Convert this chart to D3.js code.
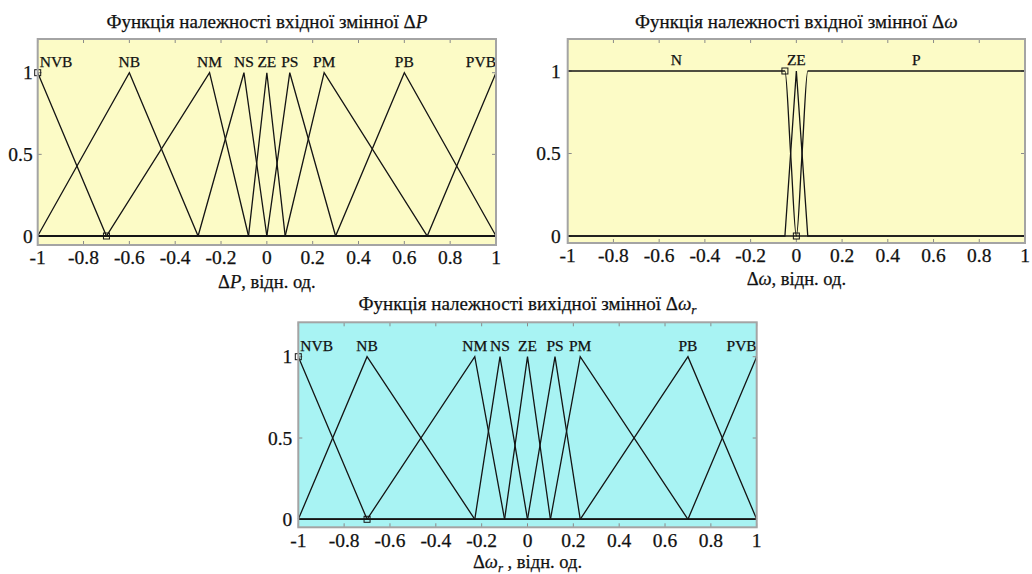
<!DOCTYPE html>
<html><head><meta charset="utf-8">
<script src="https://cdn.jsdelivr.net/npm/d3@7"></script>
<style>
body{margin:0;background:#fff}
svg{display:block}
text{font-family:"Liberation Serif","Times New Roman",serif;fill:#111;stroke:#111;stroke-width:0.25px}
</style>
</head><body>
<svg id="c" width="1032" height="574"></svg>
<script>
// ---------- data ----------
const xTickValues = [-1,-0.8,-0.6,-0.4,-0.2,0,0.2,0.4,0.6,0.8,1];
const xTickLabels = ["-1","-0.8","-0.6","-0.4","-0.2","0","0.2","0.4","0.6","0.8","1"];
const yTickValues = [0,0.5,1];
const yTickLabels = ["0","0.5","1"];

// input ΔP : triangular MFs [a, b, c]
const dpNames  = ["NVB","NB","NM","NS","ZE","PS","PM","PB","PVB"];
const dpParams = [[-1.3,-1,-0.7],[-1,-0.6,-0.3],[-0.7,-0.25,-0.08],[-0.3,-0.1,0],[-0.08,0,0.08],[0,0.1,0.3],[0.08,0.25,0.7],[0.3,0.6,1],[0.7,1,1.3]];
const dpSelected = [[-1,1],[-0.7,0]];

// input Δω
const dwNames  = ["N","ZE","P"];
const dwTypes  = ["zmf","trimf","smf"];
const dwParams = [[-0.05,0],[-0.05,0,0.05],[0,0.05]];
const dwSelected = [[-0.05,1],[0,0]];

// output Δω_r : triangular MFs
const drNames  = ["NVB","NB","NM","NS","ZE","PS","PM","PB","PVB"];
const drParams = [[-1.3,-1,-0.7],[-1,-0.7,-0.23],[-0.7,-0.23,-0.1],[-0.23,-0.12,0],[-0.1,0,0.1],[0,0.12,0.23],[0.1,0.23,0.7],[0.23,0.7,1],[0.7,1,1.3]];
const drSelected = [[-1,1],[-0.7,0]];

// ---------- helpers ----------
function tri(p, x){
  const [a,b,c]=p;
  if (x===b) return 1;
  if (x<=a || x>=c) return 0;
  if (x<=b) return (x-a)/(b-a);
  return (c-x)/(c-b);
}
function mfPoints(type, p){
  if (type==="trimf"){
    const pts=[[-1,tri(p,-1)]];
    p.forEach((v,i)=>{ if(v>-1 && v<1) pts.push([v, i===1?1:0]); });
    pts.push([1,tri(p,1)]);
    return pts;
  }
  if (type==="zmf") return [[-1,1],[p[0],1],[(p[0]+p[1])/2,0.5],[p[1],0],[1,0]];
  if (type==="smf") return [[-1,0],[p[0],0],[(p[0]+p[1])/2,0.5],[p[1],1],[1,1]];
}
function labelX(type,p){
  if (type==="trimf") return Math.max(-1,Math.min(1,p[1]));
  if (type==="zmf") return (-1+p[0])/2;
  if (type==="smf") return (p[1]+1)/2;
}
function addParts(txt, parts, baseSize){
  parts.forEach(pt=>{
    const ts = txt.append("tspan").text(pt.t);
    if (pt.i) ts.attr("font-style","italic");
    if (pt.sub){ ts.attr("font-size", baseSize*0.7).attr("dy", 4); }
    if (pt.after){ ts.attr("dy", -4); }
  });
}

const svg = d3.select("#c");

function panel(cfg){
  const g = svg.append("g");
  const x = d3.scaleLinear().domain([-1,1]).range([cfg.left,cfg.right]);
  const y = d3.scaleLinear().domain([0,1]).range([cfg.y0,cfg.y1]);
  g.append("rect").attr("x",cfg.left).attr("y",cfg.top)
    .attr("width",cfg.right-cfg.left).attr("height",cfg.bottom-cfg.top)
    .attr("fill",cfg.bg);
  const tk = g.append("g").attr("stroke","#8a8a8a").attr("stroke-width",1);
  xTickValues.forEach(v=>{
    tk.append("line").attr("x1",x(v)).attr("x2",x(v)).attr("y1",cfg.top).attr("y2",cfg.top+4);
    tk.append("line").attr("x1",x(v)).attr("x2",x(v)).attr("y1",cfg.bottom).attr("y2",cfg.bottom-4);
  });
  yTickValues.forEach(v=>{
    tk.append("line").attr("x1",cfg.left).attr("x2",cfg.left+4).attr("y1",y(v)).attr("y2",y(v));
    tk.append("line").attr("x1",cfg.right).attr("x2",cfg.right-4).attr("y1",y(v)).attr("y2",y(v));
  });
  const lineLin = d3.line().x(d=>x(d[0])).y(d=>y(d[1]));
  const lineSmooth = d3.line().x(d=>x(d[0])).y(d=>y(d[1])).curve(d3.curveMonotoneX);
  cfg.params.forEach((p,i)=>{
    const type = cfg.types ? cfg.types[i] : "trimf";
    const gen = type==="trimf" ? lineLin : lineSmooth;
    g.append("path").attr("d", gen(mfPoints(type,p)))
      .attr("fill","none").attr("stroke","#141414").attr("stroke-width",1.3)
      .attr("stroke-linejoin","miter");
  });
  cfg.params.forEach((p,i)=>{
    const type = cfg.types ? cfg.types[i] : "trimf";
    const t = g.append("text").attr("x", x(labelX(type,p))).attr("y", cfg.y1-6)
      .attr("text-anchor","middle").attr("font-size",15.5).text(cfg.names[i]);
    const bb = t.node().getBBox();
    if (bb.x < cfg.left+2) t.attr("x", +t.attr("x") + (cfg.left+2-bb.x));
    if (bb.x+bb.width > cfg.right) t.attr("x", +t.attr("x") - (bb.x+bb.width-cfg.right));
  });
  cfg.selected.forEach(d=>{
    g.append("rect").attr("x",x(d[0])-3).attr("y",y(d[1])-3).attr("width",6).attr("height",6)
      .attr("fill","none").attr("stroke","#141414").attr("stroke-width",1);
  });
  g.append("rect").attr("x",cfg.left).attr("y",cfg.top)
    .attr("width",cfg.right-cfg.left).attr("height",cfg.bottom-cfg.top)
    .attr("fill","none").attr("stroke","#a4a4a4").attr("stroke-width",2);
  xTickValues.forEach((v,i)=>{
    g.append("text").attr("x",x(v)).attr("y",cfg.tickY).attr("text-anchor","middle")
      .attr("font-size",19.5).text(xTickLabels[i]);
  });
  yTickValues.forEach((v,i)=>{
    g.append("text").attr("x",cfg.left-cfg.yGap).attr("y",y(v)+6.5).attr("text-anchor","end")
      .attr("font-size",19.5).text(yTickLabels[i]);
  });
  const tt = g.append("text").attr("x",(cfg.left+cfg.right)/2).attr("y",cfg.titleY)
    .attr("text-anchor","middle").attr("font-size",19);
  addParts(tt, cfg.title, 19);
  const xl = g.append("text").attr("x",(cfg.left+cfg.right)/2).attr("y",cfg.xlabelY)
    .attr("text-anchor","middle").attr("font-size",18.5);
  addParts(xl, cfg.xlabel, 18.5);
}

panel({left:37.7,right:496,top:39,bottom:245,y0:236,y1:72.7,bg:"#fcfbc6",
  params:dpParams,names:dpNames,selected:dpSelected,
  tickY:264,yGap:5,titleY:28,xlabelY:288,
  title:[{t:"Функція належності вхідної змінної Δ"},{t:"P",i:true}],
  xlabel:[{t:"Δ"},{t:"P",i:true},{t:", відн. од."}]});

panel({left:567.7,right:1025,top:39,bottom:243,y0:236,y1:71,bg:"#fcfbc6",
  params:dwParams,types:dwTypes,names:dwNames,selected:dwSelected,
  tickY:262,yGap:7,titleY:28,xlabelY:285,
  title:[{t:"Функція належності вхідної змінної Δ"},{t:"ω",i:true}],
  xlabel:[{t:"Δ"},{t:"ω",i:true},{t:", відн. од."}]});

panel({left:298.3,right:756.7,top:322.3,bottom:527.3,y0:519.3,y1:356.7,bg:"#a8f3f3",
  params:drParams,names:drNames,selected:drSelected,
  tickY:547,yGap:6,titleY:310,xlabelY:568,
  title:[{t:"Функція належності вихідної змінної Δ"},{t:"ω",i:true},{t:"r",i:true,sub:true}],
  xlabel:[{t:"Δ"},{t:"ω",i:true},{t:"r",i:true,sub:true},{t:" , відн. од.",after:true}]});
</script>
</body></html>
